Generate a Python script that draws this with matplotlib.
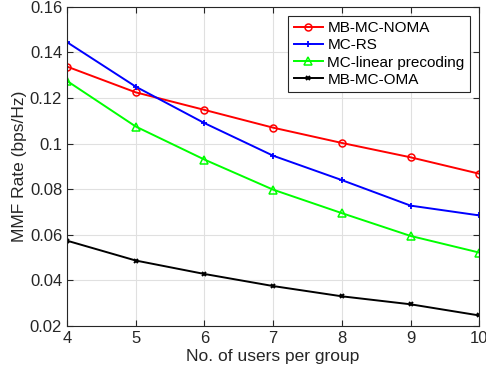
import numpy as np
import matplotlib
matplotlib.use("Agg")
import matplotlib.pyplot as plt

plt.rcParams['font.family'] = ['Liberation Sans', 'DejaVu Sans']

users = [4, 5, 6, 7, 8, 9, 10]
mb_mc_noma = [0.1338, 0.1225, 0.1148, 0.1070, 0.1003, 0.0940, 0.0868]
mc_rs = [0.1445, 0.1250, 0.1090, 0.0947, 0.0840, 0.0728, 0.0685]
mc_linear = [0.1275, 0.1075, 0.0930, 0.0798, 0.0695, 0.0595, 0.0522]
mb_mc_oma = [0.0574, 0.0487, 0.0428, 0.0375, 0.0330, 0.0295, 0.0246]

fig = plt.figure(figsize=(4.86, 3.83), dpi=100)
ax = fig.add_axes([0.138, 0.149, 0.848, 0.833])

ax.plot(users, mb_mc_noma, color='#ff0000', lw=1.4, marker='o', ms=5,
        mfc='none', mew=1.1, label='MB-MC-NOMA')
ax.plot(users, mc_rs, color='#0000ff', lw=1.4, marker='+', ms=5,
        mew=1.3, label='MC-RS')
ax.plot(users, mc_linear, color='#00ff00', lw=1.4, marker='^', ms=6,
        mfc='none', mew=1.1, label='MC-linear precoding')
ax.plot(users, mb_mc_oma, color='black', lw=1.4, marker='x', ms=3.5,
        mew=1.4, label='MB-MC-OMA')

ax.set_xlim(4, 10)
ax.set_ylim(0.02, 0.16)
ax.set_xticks(users)
ax.set_yticks([0.02, 0.04, 0.06, 0.08, 0.1, 0.12, 0.14, 0.16])
ax.set_yticklabels(['0.02', '0.04', '0.06', '0.08', '0.1', '0.12', '0.14', '0.16'])
ax.grid(True, color='#e0e0e0', lw=0.8)
ax.set_axisbelow(True)
ax.tick_params(direction='in', labelsize=12, color='#262626', labelcolor='#262626',
               top=True, right=True, length=4)
for s in ax.spines.values():
    s.set_color('#262626')
    s.set_linewidth(0.8)

ax.set_xlabel('No. of users per group', fontsize=12.5, color='#262626', labelpad=2)
ax.set_ylabel('MMF Rate (bps/Hz)', fontsize=12.5, color='#262626', labelpad=2)

leg = ax.legend(loc='upper right', fontsize=11, fancybox=False, framealpha=1,
                edgecolor='#262626', handlelength=1.9, borderpad=0.35,
                labelspacing=0.2, handletextpad=0.3, borderaxespad=0.6)
leg.get_frame().set_linewidth(0.8)

fig.savefig('out.png', dpi=100)
